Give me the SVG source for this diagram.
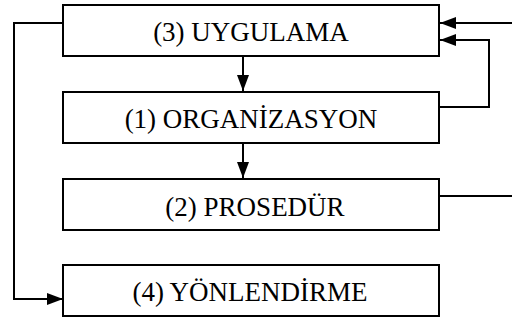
<svg xmlns="http://www.w3.org/2000/svg" width="512" height="320" viewBox="0 0 512 320">
  <style>
    .box { fill: #ffffff; stroke: #000000; stroke-width: 2; }
    .lbl { font-family: "Liberation Serif", "Times New Roman", serif; font-size: 27px; fill: #000000; text-anchor: middle; }
    .wire { fill: none; stroke: #000000; stroke-width: 2; }
  </style>
  <defs>
    <marker id="arrow" viewBox="0 0 16 12" refX="16" refY="6" markerWidth="16" markerHeight="12" markerUnits="userSpaceOnUse" orient="auto">
      <path d="M0,0 L16,6 L0,12 Z" fill="#000000"/>
    </marker>
  </defs>
  <rect width="512" height="320" fill="#ffffff"/>

  <g id="connectors">
    <!-- 3 -> 1 -->
    <line class="wire" x1="243" y1="56" x2="243" y2="91" marker-end="url(#arrow)"/>
    <!-- 1 -> 2 -->
    <line class="wire" x1="243" y1="143" x2="243" y2="178" marker-end="url(#arrow)"/>
    <!-- incoming from the right into 3 -->
    <line class="wire" x1="512" y1="23" x2="440" y2="23" marker-end="url(#arrow)"/>
    <!-- loop from 1 back to 3 -->
    <polyline class="wire" points="440,107 489,107 489,40 440,40" marker-end="url(#arrow)"/>
    <!-- outgoing from 2 to the right -->
    <line class="wire" x1="440" y1="196" x2="512" y2="196"/>
    <!-- 3 -> 4 along the left -->
    <polyline class="wire" points="63,23 14,23 14,299 63,299" marker-end="url(#arrow)"/>
  </g>

  <g id="node-uygulama">
    <rect class="box" x="63" y="5" width="376" height="51"/>
    <text class="lbl" x="251" y="41">(3) UYGULAMA</text>
  </g>
  <g id="node-organizasyon">
    <rect class="box" x="63" y="92" width="376" height="51"/>
    <text class="lbl" x="251" y="128">(1) ORGANİZASYON</text>
  </g>
  <g id="node-prosedur">
    <rect class="box" x="63" y="179" width="376" height="51"/>
    <text class="lbl" x="255" y="216">(2) PROSEDÜR</text>
  </g>
  <g id="node-yonlendirme">
    <rect class="box" x="63" y="265" width="376" height="51"/>
    <text class="lbl" x="250" y="301">(4) YÖNLENDİRME</text>
  </g>
</svg>
